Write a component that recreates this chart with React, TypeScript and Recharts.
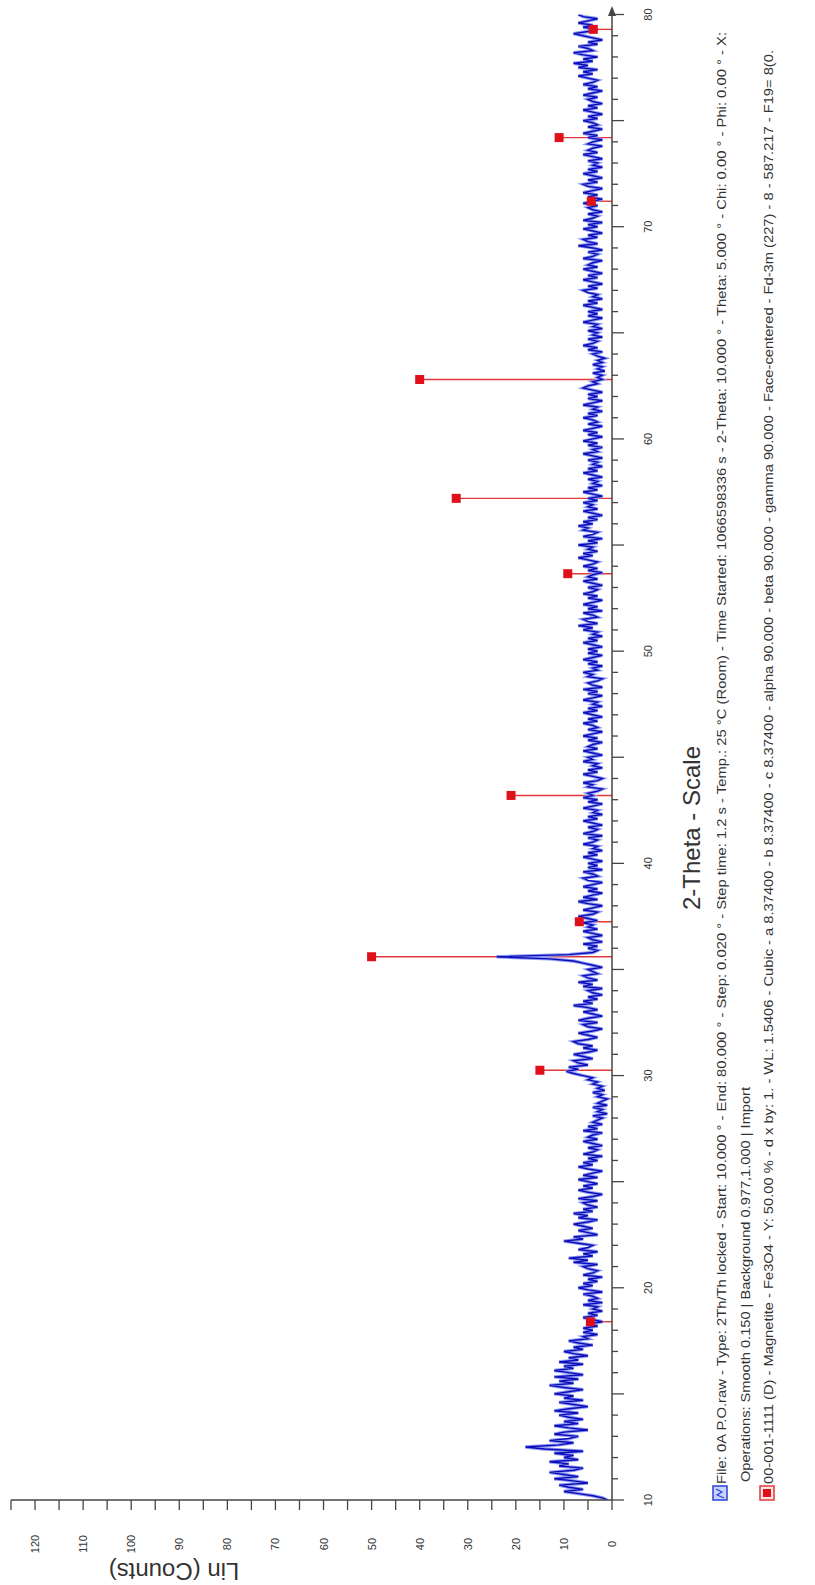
import { ComposedChart, Line, Scatter, XAxis, YAxis, ReferenceLine } from 'recharts'

// 2-theta grid: 10.0 .. 80.0, step 0.1
const START = 10
const STEP = 0.1

// Lin (Counts), one row per degree
const counts = [
  1, 2, 4, 7, 10, 6, 9, 11, 5, 8,
  12, 7, 10, 13, 8, 6, 11, 9, 13, 7,
  10, 8, 12, 6, 14, 18, 11, 8, 13, 9,
  7, 12, 10, 5, 9, 12, 7, 10, 6, 9,
  11, 7, 12, 9, 5, 8, 11, 6, 10, 8,
  12, 9, 6, 10, 13, 8, 11, 7, 12, 6,
  9, 12, 8, 10, 6, 11, 7, 9, 5, 8,
  10, 6, 8, 4, 7, 9, 5, 6, 3, 6,
  4, 6, 3, 5, 2, 4, 6, 3, 5, 2,
  4, 3, 6, 2, 5, 3, 4, 6, 2, 5,
  7, 4, 6, 3, 5, 2, 6, 4, 3, 5,
  6, 3, 8, 5, 9, 4, 6, 3, 7, 5,
  4, 7, 10, 6, 8, 3, 5, 7, 4, 6,
  8, 5, 3, 7, 5, 8, 4, 6, 3, 5,
  6, 3, 7, 4, 2, 5, 7, 4, 6, 3,
  5, 7, 3, 6, 4, 2, 5, 7, 4, 6,
  3, 5, 2, 6, 4, 3, 5, 2, 4, 6,
  3, 5, 4, 2, 6, 3, 5, 2, 4, 3,
  2, 4, 1, 3, 2, 4, 1, 3, 2, 1,
  3, 2, 4, 1.5, 3, 2, 4, 3, 5, 4,
  6, 8, 9.5, 7, 9, 5, 7, 8, 4, 6,
  8, 5, 3, 6, 4, 7, 8, 5, 3, 5,
  7, 4, 2, 5, 6, 3, 7, 5, 2, 4,
  6, 3, 5, 8, 4, 6, 3, 5, 2, 4,
  5, 2, 6, 4, 7, 3, 5, 6, 3, 4,
  5, 2, 4, 6, 8, 13, 24, 9, 4, 3,
  5, 3, 6, 2, 4, 5, 2, 4, 6, 3,
  5, 4, 6, 3, 5, 7, 4, 3, 6, 4,
  2, 5, 7, 3, 6, 4, 2, 5, 3, 6,
  4, 2, 5, 6, 3, 4, 6, 2, 5, 3,
  5, 2, 4, 6, 3, 5, 2, 4, 3, 6,
  4, 3, 5, 2, 6, 4, 3, 5, 2, 4,
  6, 3, 5, 2, 4, 3, 6, 4, 2, 5,
  3, 6, 4, 5, 3, 2, 5, 4, 6, 3,
  2, 4, 6, 3, 5, 2, 4, 3, 6, 4,
  5, 2, 4, 6, 3, 5, 4, 2, 5, 3,
  6, 4, 2, 5, 3, 4, 6, 3, 5, 2,
  4, 6, 3, 5, 2, 4, 3, 6, 4, 2,
  5, 3, 6, 2, 4, 5, 3, 2, 5, 4,
  6, 3, 4, 2, 5, 3, 6, 4, 2, 5,
  3, 5, 2, 4, 6, 3, 5, 2, 4, 3,
  6, 4, 7, 3, 5, 6, 3, 4, 6, 2,
  5, 3, 6, 4, 2, 5, 3, 6, 4, 3,
  5, 2, 4, 6, 3, 5, 4, 2, 5, 3,
  6, 4, 3, 5, 7, 4, 6, 3, 5, 4,
  7, 3, 5, 2, 6, 4, 3, 6, 5, 7,
  4, 6, 3, 5, 2, 4, 6, 3, 5, 4,
  6, 3, 5, 2, 4, 6, 3, 5, 2, 4,
  3, 5, 2, 4, 6, 3, 5, 2, 4, 3,
  5, 2, 4, 6, 3, 4, 2, 5, 3, 6,
  4, 2, 5, 3, 6, 4, 2, 5, 3, 4,
  6, 3, 5, 2, 4, 3, 6, 4, 2, 5,
  3, 5, 2, 4, 6, 5, 3, 4, 2, 3,
  2, 4, 1.5, 3, 2, 4, 2, 3, 1.5, 3,
  4, 2, 5, 3, 6, 4, 3, 5, 2, 4,
  3, 5, 2, 4, 3, 6, 4, 2, 5, 3,
  5, 2, 4, 6, 3, 5, 2, 4, 3, 5,
  6, 3, 5, 2, 4, 6, 3, 5, 2, 4,
  6, 3, 5, 4, 2, 6, 4, 3, 5, 2,
  4, 7, 3, 5, 6, 3, 5, 2, 4, 6,
  3, 5, 2, 6, 4, 3, 5, 2, 4, 5,
  3, 6, 4, 2, 5, 3, 6, 4, 2, 5,
  6, 3, 5, 2, 4, 6, 3, 5, 2, 4,
  3, 5, 2, 4, 6, 3, 5, 4, 2, 5,
  4, 2, 5, 3, 6, 4, 2, 5, 3, 4,
  6, 3, 5, 2, 4, 6, 3, 5, 2, 4,
  5, 3, 6, 4, 2, 5, 3, 6, 4, 3,
  5, 7, 4, 6, 3, 7, 5, 8, 4, 6,
  3, 6, 8, 4, 5, 7, 3, 5, 2, 4,
  6, 8, 5, 3, 6, 4, 7, 5, 3, 6,
  7,
]

// 00-001-1111 Magnetite sticks
const stickPos = [18.4, 30.25, 35.6, 37.25, 43.2, 53.65, 57.2, 62.8, 71.2, 74.2, 79.3]
const stickHeight = [4.5, 15, 50, 6.8, 21, 9.2, 32.4, 40, 4.3, 11, 3.9]

const thetaTicks = Array.from({ length: 71 }, (_, i) => 10 + i)
const countTicks = Array.from({ length: 26 }, (_, i) => i * 5)

const legendLines = [
  'File: 0A P.O.raw - Type: 2Th/Th locked - Start: 10.000 ° - End: 80.000 ° - Step: 0.020 ° - Step time: 1.2 s - Temp.: 25 °C (Room) - Time Started: 1066598336 s - 2-Theta: 10.000 ° - Theta: 5.000 ° - Chi: 0.00 ° - Phi: 0.00 ° - X:',
  'Operations: Smooth 0.150 | Background 0.977,1.000 | Import',
  '00-001-1111 (D) - Magnetite - Fe3O4 - Y: 50.00 % - d x by: 1. - WL: 1.5406 - Cubic - a 8.37400 - b 8.37400 - c 8.37400 - alpha 90.000 - beta 90.000 - gamma 90.000 - Face-centered - Fd-3m (227) - 8 - 587.217 - F19=  8(0.',
]

const scan = counts.map((c, i) => ({ t: +(START + i * STEP).toFixed(2), c }))
const sticks = stickPos.map((t, i) => ({ t, h: stickHeight[i] }))

const W = 1585
const H = 815
const AXIS = '#454545'
const FONT = '"Liberation Sans", Arial, sans-serif'

function ThetaTick({ x, y, payload }: any) {
  const v = payload.value
  const major = v % 5 === 0
  return (
    <g>
      <line x1={x} y1={y} x2={x} y2={y + (major ? 12 : 6)} stroke={AXIS} strokeWidth={1.3} />
      {v % 10 === 0 && (
        <text x={x} y={y + 36} textAnchor="middle" dominantBaseline="central" fontSize={11} fill="#333" fontFamily={FONT}>
          {v}
        </text>
      )}
    </g>
  )
}

function CountTick({ x, y, payload }: any) {
  const v = payload.value
  return (
    <g>
      <line x1={x - 10} y1={y} x2={x} y2={y} stroke={AXIS} strokeWidth={1.3} />
      {v % 10 === 0 && v <= 120 && (
        <text x={x - 44} y={y} textAnchor="middle" dominantBaseline="central" fontSize={11} fill="#333" fontFamily={FONT}>
          {v}
        </text>
      )}
    </g>
  )
}

const Square = ({ cx, cy }: any) => <rect x={cx - 4.5} y={cy - 4.5} width={9} height={9} fill="#e0101a" />

export default function App() {
  return (
    <div style={{ position: 'absolute', left: 0, top: 0, width: H, height: W, overflow: 'hidden', background: '#fff' }}>
      <div
        style={{
          position: 'absolute',
          left: 0,
          top: 0,
          width: W,
          height: H,
          transformOrigin: '0 0',
          transform: `translateY(${W}px) rotate(-90deg)`,
        }}
      >
        <ComposedChart width={W} height={H} margin={{ top: 11, right: 14.5, bottom: 163, left: 25 }}>
          <XAxis
            dataKey="t"
            type="number"
            domain={[10, 80]}
            ticks={thetaTicks}
            interval={0}
            tickSize={0}
            tickMargin={0}
            tickLine={false}
            height={40}
            stroke={AXIS}
            strokeWidth={1.5}
            tick={<ThetaTick />}
            allowDataOverflow
          />
          <YAxis
            type="number"
            domain={[0, 125]}
            ticks={countTicks}
            interval={0}
            tickSize={0}
            tickMargin={0}
            tickLine={false}
            width={60}
            stroke={AXIS}
            strokeWidth={1.5}
            tick={<CountTick />}
            allowDataOverflow
          />
          {sticks.map((s) => (
            <ReferenceLine
              key={s.t}
              segment={[
                { x: s.t, y: 0 },
                { x: s.t, y: s.h },
              ]}
              stroke="#e2383e"
              strokeWidth={1.4}
              ifOverflow="visible"
            />
          ))}
          <Line
            data={scan}
            dataKey="c"
            type="linear"
            stroke="#8e9af2"
            strokeWidth={3.4}
            dot={false}
            isAnimationActive={false}
          />
          <Line
            data={scan}
            dataKey="c"
            type="linear"
            stroke="#0c0cb8"
            strokeWidth={1.4}
            dot={false}
            isAnimationActive={false}
          />
          <Scatter data={sticks} dataKey="h" shape={<Square />} isAnimationActive={false} />
        </ComposedChart>
        <svg width={W} height={H} style={{ position: 'absolute', left: 0, top: 0, pointerEvents: 'none' }}>
          <path d="M1569,608 L1579,612 L1569,616 Z" fill={AXIS} />
          <text x={757} y={700} textAnchor="middle" fontSize={24} fill="#333" fontFamily={FONT}>
            2-Theta - Scale
          </text>
          <text
            x={14}
            y={174}
            transform="rotate(-90 14 174)"
            textAnchor="middle"
            dominantBaseline="central"
            fontSize={24}
            fill="#333"
            fontFamily={FONT}
          >
            Lin (Counts)
          </text>
          <rect x={85} y={713} width={14} height={14} fill="#c9d3ff" stroke="#2a40d8" strokeWidth={1.5} />
          <polyline points="87,724 90,717 93,722 96,716" fill="none" stroke="#2a40d8" strokeWidth={1.2} />
          <rect x={85} y={760} width={14} height={14} fill="#fde4e4" stroke="#e03a3a" strokeWidth={1.5} />
          <rect x={88} y={763} width={8} height={8} fill="#e0101a" />
          <text x={101} y={725.5} fontSize={13} fill="#333" fontFamily={FONT} textLength={1452} lengthAdjust="spacingAndGlyphs">
            {legendLines[0]}
          </text>
          <text x={103} y={749.5} fontSize={13} fill="#333" fontFamily={FONT} textLength={395} lengthAdjust="spacingAndGlyphs">
            {legendLines[1]}
          </text>
          <text x={101} y={772.5} fontSize={13} fill="#333" fontFamily={FONT} textLength={1434} lengthAdjust="spacingAndGlyphs">
            {legendLines[2]}
          </text>
        </svg>
      </div>
    </div>
  )
}
